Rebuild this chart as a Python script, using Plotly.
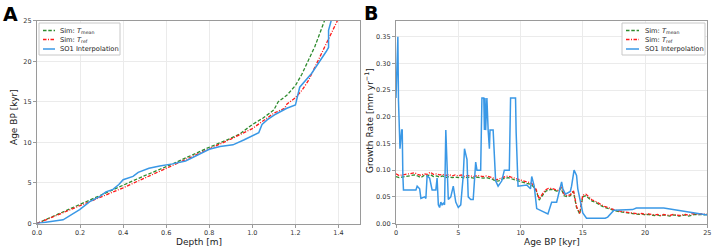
import plotly.graph_objects as go

# ---------- Panel A data: age (kyr) vs depth (m) ----------
a_mean_depth = [0.0, 0.1, 0.2, 0.3, 0.4, 0.5, 0.6, 0.7, 0.8, 0.9, 0.94, 1.0, 1.05, 1.1, 1.12, 1.16, 1.2, 1.23, 1.26, 1.29, 1.31, 1.335]
a_mean_age = [0.0, 1.2, 2.4, 3.5, 4.7, 5.9, 7.0, 8.2, 9.4, 10.5, 11.0, 12.2, 13.0, 14.0, 15.0, 15.8, 17.0, 18.4, 20.0, 21.8, 23.2, 25.0]

a_ref_depth = [0.0, 0.1, 0.2, 0.3, 0.4, 0.5, 0.6, 0.7, 0.8, 0.9, 1.0, 1.05, 1.1, 1.15, 1.16, 1.2, 1.23, 1.26, 1.29, 1.32, 1.35, 1.37, 1.395]
a_ref_age = [0.0, 1.1, 2.2, 3.3, 4.4, 5.6, 6.8, 8.0, 9.2, 10.4, 11.7, 12.6, 13.6, 14.2, 14.7, 15.5, 16.4, 17.6, 19.2, 20.8, 22.6, 23.6, 25.0]

a_so1_depth = [0.0, 0.121, 0.198, 0.245, 0.29, 0.32, 0.353, 0.38, 0.40, 0.43, 0.446, 0.47, 0.52, 0.57, 0.63, 0.69, 0.76, 0.80, 0.85, 0.91, 0.96, 1.005, 1.03, 1.045, 1.07, 1.11, 1.16, 1.20, 1.22, 1.275, 1.33, 1.343, 1.354, 1.354, 1.366]
a_so1_age = [0.0, 0.45, 1.7, 2.7, 3.3, 3.9, 4.2, 4.8, 5.4, 5.6, 5.8, 6.3, 6.8, 7.1, 7.35, 7.7, 8.6, 9.15, 9.5, 9.7, 10.3, 10.9, 11.2, 12.2, 12.8, 13.5, 14.2, 14.6, 16.8, 18.5, 20.6, 21.2, 21.7, 23.8, 25.0]

# ---------- Panel B data: growth rate (mm/yr) vs age (kyr) ----------
b_age = [i * 0.25 for i in range(101)]
b_mean_rate = [0.088, 0.086, 0.087, 0.088, 0.089, 0.090, 0.091, 0.089, 0.086, 0.090,
               0.089, 0.092, 0.088, 0.089, 0.087, 0.089, 0.086, 0.088, 0.086, 0.087,
               0.086, 0.087, 0.085, 0.087, 0.086, 0.085, 0.087, 0.086, 0.085, 0.086,
               0.084, 0.083, 0.079, 0.080, 0.083, 0.085, 0.086, 0.084, 0.082, 0.080,
               0.078, 0.077, 0.075, 0.074, 0.070, 0.062, 0.044, 0.052, 0.060, 0.063,
               0.064, 0.062, 0.060, 0.066, 0.052, 0.050, 0.052, 0.060, 0.030, 0.018,
               0.050, 0.052, 0.046, 0.042, 0.040, 0.036, 0.033, 0.030, 0.028, 0.026,
               0.025, 0.023, 0.022, 0.021, 0.020, 0.019, 0.019, 0.018, 0.017, 0.018,
               0.016, 0.017, 0.016, 0.015, 0.016, 0.014, 0.016, 0.015, 0.014, 0.016,
               0.015, 0.014, 0.015, 0.016, 0.014, 0.016, 0.017, 0.016, 0.017, 0.016,
               0.017]
b_ref_rate = [0.093, 0.090, 0.091, 0.092, 0.093, 0.094, 0.095, 0.092, 0.090, 0.093,
              0.092, 0.096, 0.092, 0.093, 0.091, 0.092, 0.090, 0.092, 0.089, 0.091,
              0.089, 0.091, 0.088, 0.090, 0.089, 0.088, 0.090, 0.089, 0.088, 0.089,
              0.087, 0.086, 0.082, 0.083, 0.086, 0.088, 0.089, 0.087, 0.085, 0.083,
              0.081, 0.080, 0.078, 0.077, 0.073, 0.064, 0.046, 0.055, 0.063, 0.066,
              0.066, 0.064, 0.062, 0.068, 0.055, 0.052, 0.054, 0.062, 0.032, 0.019,
              0.053, 0.055, 0.049, 0.044, 0.042, 0.038, 0.035, 0.032, 0.030, 0.027,
              0.026, 0.024, 0.023, 0.022, 0.021, 0.020, 0.020, 0.019, 0.018, 0.019,
              0.017, 0.018, 0.017, 0.016, 0.017, 0.015, 0.017, 0.016, 0.015, 0.017,
              0.016, 0.015, 0.016, 0.017, 0.015, 0.018, 0.018, 0.017, 0.018, 0.017,
              0.017]

b_so1_age = [0.0, 0.1, 0.15, 0.2, 0.27, 0.32, 0.45, 0.5, 0.55, 0.6, 1.6, 1.7, 1.9, 2.0, 2.3, 2.4, 2.5, 2.7, 2.9, 3.2, 3.3, 3.4,
             3.5, 3.6, 3.7, 3.8, 3.9, 4.0, 4.2, 4.4, 4.6, 4.8, 5.0, 5.2, 5.4, 5.5, 5.6, 5.7, 5.8, 6.0, 6.2, 6.4, 6.5, 6.8, 6.9,
             7.05, 7.1, 7.15, 7.2, 7.25, 7.3, 7.4, 7.5, 7.55, 7.6, 7.8, 8.0, 8.2, 8.5, 8.7, 9.1, 9.2, 9.6, 9.65, 9.8, 10.5, 10.8,
             10.9, 11.1, 11.3, 12.2, 12.5, 12.9, 13.3, 13.4, 13.6, 14.0, 14.1, 14.3, 14.5, 14.6, 15.0, 15.3, 16.8, 17.0, 17.5,
             19.0, 19.3, 21.5, 23.5, 25.0]
b_so1_rate = [0.235, 0.30, 0.35, 0.23, 0.14, 0.14, 0.175, 0.175, 0.09, 0.063, 0.063, 0.07, 0.065, 0.047, 0.05, 0.047, 0.09,
              0.085, 0.063, 0.063, 0.085, 0.035, 0.03, 0.04, 0.035, 0.038, 0.035, 0.175, 0.045, 0.05, 0.07, 0.04, 0.03, 0.035,
              0.09, 0.14, 0.13, 0.12, 0.05, 0.045, 0.045, 0.115, 0.10, 0.10, 0.235, 0.235, 0.175, 0.235, 0.175, 0.235, 0.235,
              0.175, 0.14, 0.175, 0.175, 0.175, 0.08, 0.07, 0.08, 0.10, 0.10, 0.235, 0.235, 0.17, 0.07, 0.072, 0.065, 0.088,
              0.07, 0.028, 0.018, 0.04, 0.04, 0.078, 0.065, 0.055, 0.06, 0.07, 0.10, 0.09, 0.065, 0.02, 0.01, 0.01, 0.012,
              0.025, 0.026, 0.029, 0.029, 0.022, 0.016]

legend_labels = ["Sim: <i>T</i><sub>mean</sub>", "Sim: <i>T</i><sub>ref</sub>", "SO1 Interpolation"]

GREEN = "#2e8b2e"
RED = "#ff1a1a"
BLUE = "#3a98e6"
FONT = "DejaVu Sans"
W, H = 713, 248
DASH_G = "3.5px,1.8px"
DASH_R = "3.5px,1.5px,1px,1.5px"
styles = [dict(color=GREEN, width=1.3, dash=DASH_G),
          dict(color=RED, width=1.3, dash=DASH_R),
          dict(color=BLUE, width=1.5)]

def px(x):
    return x / W

def py(y):
    return 1 - y / H

fig = go.Figure()

# Panel A
for xs, ys, st, nm in [(a_mean_depth, a_mean_age, styles[0], legend_labels[0]),
                       (a_ref_depth, a_ref_age, styles[1], legend_labels[1]),
                       (a_so1_depth, a_so1_age, styles[2], legend_labels[2])]:
    fig.add_trace(go.Scatter(x=xs, y=ys, mode="lines", name=nm, line=st, xaxis="x", yaxis="y", showlegend=False))

# Panel B
for xs, ys, st, nm in [(b_age, b_mean_rate, styles[0], legend_labels[0]),
                       (b_age, b_ref_rate, styles[1], legend_labels[1]),
                       (b_so1_age, b_so1_rate, styles[2], legend_labels[2])]:
    fig.add_trace(go.Scatter(x=xs, y=ys, mode="lines", name=nm, line=st, xaxis="x2", yaxis="y2", showlegend=False))

axis_common = dict(showgrid=True, gridcolor="#ebebeb", gridwidth=1, zeroline=False, showline=True,
                   linecolor="#9a9a9a", linewidth=1.2, mirror=True, ticks="outside", ticklen=3,
                   tickcolor="#9a9a9a", automargin=False,
                   tickfont=dict(family=FONT, size=6.5, color="#333333"))

ydom = [py(223.5), py(20.7)]

shapes = []
annotations = []

# manual legends (A: top-left, B: top-right)
legend_boxes = [
    dict(x0=39, x1=120, y0=23, y1=55, lx0=43, lx1=55, tx=58, rows=[30.5, 39.5, 49]),
    dict(x0=622, x1=705, y0=23, y1=55, lx0=626, lx1=639, tx=643, rows=[30.5, 39.5, 49]),
]
for lb in legend_boxes:
    shapes.append(dict(type="rect", xref="paper", yref="paper", x0=px(lb["x0"]), x1=px(lb["x1"]),
                       y0=py(lb["y1"]), y1=py(lb["y0"]), line=dict(color="#c8c8c8", width=1),
                       fillcolor="white", layer="above"))
    for i, ry in enumerate(lb["rows"]):
        st = styles[i]
        shapes.append(dict(type="line", xref="paper", yref="paper", x0=px(lb["lx0"]), x1=px(lb["lx1"]),
                           y0=py(ry), y1=py(ry), line=dict(color=st["color"], width=st["width"],
                                                         dash=st.get("dash", "solid")), layer="above"))
        annotations.append(dict(text=legend_labels[i], x=px(lb["tx"]), y=py(ry), xref="paper", yref="paper",
                                xanchor="left", yanchor="middle", showarrow=False,
                                font=dict(family=FONT, size=6.7, color="#222222")))

annotations += [
    dict(text="<b>A</b>", x=px(1), y=py(1), xref="paper", yref="paper", xanchor="left", yanchor="top",
         showarrow=False, font=dict(family=FONT, size=19, color="black")),
    dict(text="<b>B</b>", x=px(362), y=py(0), xref="paper", yref="paper", xanchor="left", yanchor="top",
         showarrow=False, font=dict(family=FONT, size=19, color="black")),
    dict(text="Depth [m]", x=px(198.5), y=py(241.5), xref="paper", yref="paper", xanchor="center",
         yanchor="middle", showarrow=False, font=dict(family=FONT, size=9, color="#222222")),
    dict(text="Age BP [kyr]", x=px(14), y=py(117), xref="paper", yref="paper", xanchor="center", yanchor="middle",
         showarrow=False, textangle=-90, font=dict(family=FONT, size=9, color="#222222")),
    dict(text="Age BP [kyr]", x=px(552), y=py(241.5), xref="paper", yref="paper", xanchor="center",
         yanchor="middle", showarrow=False, font=dict(family=FONT, size=9, color="#222222")),
    dict(text="Growth Rate [mm yr<sup>−1</sup>]", x=px(369), y=py(121), xref="paper", yref="paper",
         xanchor="center", yanchor="middle", showarrow=False, textangle=-90,
         font=dict(family=FONT, size=9, color="#222222")),
]

fig.update_layout(
    width=W, height=H,
    margin=dict(l=0, r=0, t=0, b=0),
    paper_bgcolor="white", plot_bgcolor="white",
    font=dict(family=FONT, color="#222222"),
    showlegend=False,
    xaxis=dict(domain=[px(37), px(360)], range=[0, 1.5], tickvals=[0, 0.2, 0.4, 0.6, 0.8, 1.0, 1.2, 1.4],
               ticktext=["0.0", "0.2", "0.4", "0.6", "0.8", "1.0", "1.2", "1.4"], anchor="y", **axis_common),
    yaxis=dict(domain=ydom, range=[0, 25], tickvals=[0, 5, 10, 15, 20, 25], anchor="x", **axis_common),
    xaxis2=dict(domain=[px(396), px(707.3)], range=[0, 25], tickvals=[0, 5, 10, 15, 20, 25], anchor="y2",
                **axis_common),
    yaxis2=dict(domain=ydom, range=[0, 0.38], tickvals=[0, 0.05, 0.1, 0.15, 0.2, 0.25, 0.3, 0.35],
                ticktext=["0.00", "0.05", "0.10", "0.15", "0.20", "0.25", "0.30", "0.35"], anchor="x2",
                **axis_common),
    shapes=shapes,
    annotations=annotations,
)

fig.write_html("out.html", config={"displayModeBar": False},
               post_script="document.body.style.margin='0px';document.body.style.overflow='hidden';")
